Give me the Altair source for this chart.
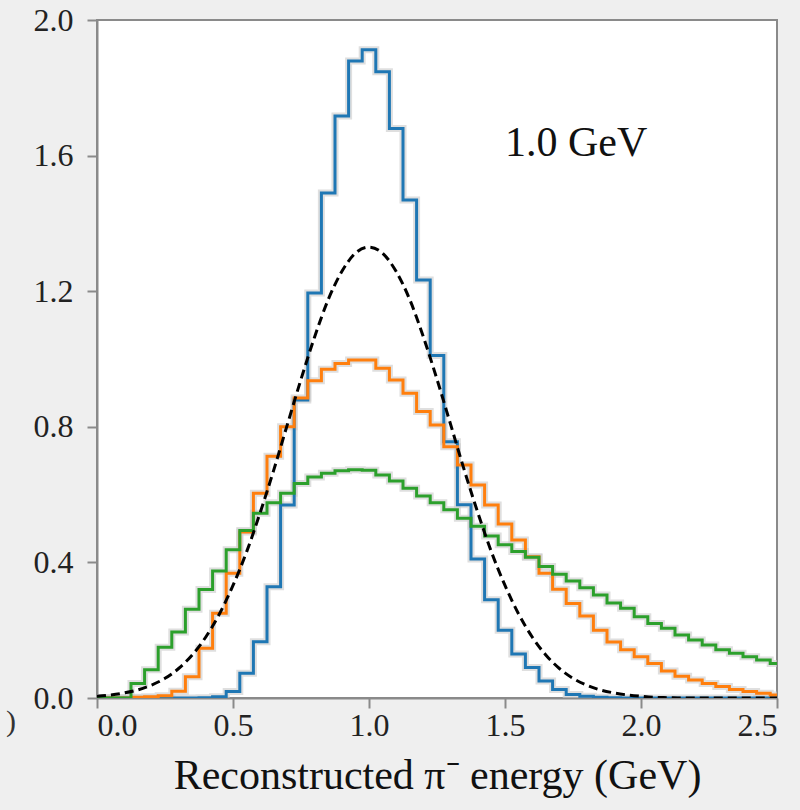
import altair as alt
import pandas as pd

# ---- data -------------------------------------------------------------------
bin_centers = [0.00, 0.05, 0.10, 0.15, 0.20, 0.25, 0.30, 0.35, 0.40, 0.45,
               0.50, 0.55, 0.60, 0.65, 0.70, 0.75, 0.80, 0.85, 0.90, 0.95,
               1.00, 1.05, 1.10, 1.15, 1.20, 1.25, 1.30, 1.35, 1.40, 1.45,
               1.50, 1.55, 1.60, 1.65, 1.70, 1.75, 1.80, 1.85, 1.90, 1.95,
               2.00, 2.05, 2.10, 2.15, 2.20, 2.25, 2.30, 2.35, 2.40, 2.45,
               2.50]
bin_half_width = 0.025

blue_vals = [0, 0, 0, 0, 0, 0, 0, 0, 0.001, 0.004,
             0.019, 0.073, 0.166, 0.328, 0.569, 0.879, 1.195, 1.49, 1.717, 1.879,
             1.912, 1.847, 1.68, 1.469, 1.233, 1.01, 0.756, 0.57, 0.41, 0.29,
             0.20, 0.13, 0.09, 0.05, 0.025, 0.01, 0.005, 0.002, 0.001, 0,
             0, 0, 0, 0, 0, 0, 0, 0, 0, 0,
             0]
orange_vals = [0, 0, 0, 0.002, 0.004, 0.007, 0.02, 0.063, 0.147, 0.25,
               0.368, 0.49, 0.604, 0.713, 0.80, 0.885, 0.936, 0.97, 0.987, 0.997,
               0.997, 0.973, 0.938, 0.899, 0.845, 0.805, 0.741, 0.687, 0.628, 0.569,
               0.513, 0.466, 0.417, 0.368, 0.321, 0.279, 0.242, 0.20, 0.165, 0.142,
               0.122, 0.102, 0.08, 0.064, 0.053, 0.043, 0.034, 0.025, 0.019, 0.014,
               0.009]
green_vals = [0, 0, 0, 0.043, 0.083, 0.15, 0.195, 0.262, 0.32, 0.375,
              0.437, 0.494, 0.545, 0.576, 0.604, 0.633, 0.652, 0.663, 0.67, 0.673,
              0.672, 0.658, 0.64, 0.619, 0.596, 0.576, 0.555, 0.53, 0.507, 0.478,
              0.452, 0.432, 0.415, 0.388, 0.365, 0.345, 0.325, 0.304, 0.28, 0.265,
              0.24, 0.22, 0.206, 0.186, 0.171, 0.156, 0.142, 0.132, 0.122, 0.112,
              0.102]

curve_x = bin_centers
curve_y = [0.005, 0.009, 0.015, 0.024, 0.038, 0.058, 0.087, 0.127, 0.180, 0.248,
           0.332, 0.431, 0.547, 0.673, 0.807, 0.940, 1.065, 1.175, 1.258, 1.312,
           1.330, 1.312, 1.258, 1.175, 1.065, 0.940, 0.807, 0.673, 0.547, 0.431,
           0.332, 0.248, 0.180, 0.127, 0.087, 0.058, 0.038, 0.024, 0.015, 0.009,
           0.005, 0.002, 0.001, 0.0, 0.0, 0.0, 0.0, 0.0, 0.0, 0.0,
           0.0]

series_names = ["a", "b", "c"]
series_colors = ["#1f77b4", "#ff7f0e", "#2ca02c"]
x_ticks = [0.0, 0.5, 1.0, 1.5, 2.0, 2.5]
y_ticks = [0.0, 0.4, 0.8, 1.2, 1.6, 2.0]
annotation = "1.0 GeV"
x_title = "Reconstructed π⁻ energy (GeV)"
edge_fragment = ")"


def step_frame(name, vals):
    xs = [c - bin_half_width for c in bin_centers] + [bin_centers[-1] + bin_half_width]
    ys = list(vals) + [0.0]
    return pd.DataFrame({"x": xs, "y": ys, "series": name})


hist_df = pd.concat([step_frame(n, v) for n, v in
                     zip(series_names, [blue_vals, orange_vals, green_vals])],
                    ignore_index=True)
curve_df = pd.DataFrame({"x": curve_x, "y": curve_y})

FONT = "Liberation Serif"

xscale = alt.Scale(domain=[0, 2.5], nice=False, zero=False)
yscale = alt.Scale(domain=[0, 2.0], nice=False)

x_enc = alt.X("x:Q", scale=xscale,
              axis=alt.Axis(values=x_ticks, format=".1f", title=x_title))
y_enc = alt.Y("y:Q", scale=yscale,
              axis=alt.Axis(values=y_ticks, format=".1f", title=None, labelPadding=14))

hist_base = alt.Chart(hist_df)

halo = hist_base.mark_line(interpolate="step-after", clip=True, strokeWidth=7,
                           color="#c9c9c9", opacity=0.6).encode(
    x=x_enc, y=y_enc, detail="series:N")

lines = hist_base.mark_line(interpolate="step-after", clip=True, strokeWidth=3).encode(
    x=x_enc, y=y_enc,
    color=alt.Color("series:N", scale=alt.Scale(domain=series_names, range=series_colors),
                    legend=None))

curve = alt.Chart(curve_df).mark_line(interpolate="monotone", clip=True, color="black",
                                      strokeWidth=3, strokeDash=[9, 5]).encode(
    x=x_enc, y=y_enc)

label = alt.Chart(pd.DataFrame({"t": [annotation]})).mark_text(
    font=FONT, fontSize=42, align="left", baseline="alphabetic", color="#111"
).encode(x=alt.datum(1.5), y=alt.datum(1.6), text="t:N")

stray = alt.Chart(pd.DataFrame({"t": [edge_fragment]})).mark_text(
    font=FONT, fontSize=30, align="center", baseline="middle", color="#333"
).encode(x=alt.value(-86), y=alt.value(702), text="t:N")

chart = alt.layer(halo, lines, curve, label, stray).properties(
    width=680, height=678,
    autosize=alt.AutoSizeParams(type="none"),
    padding={"left": 97, "top": 20, "right": 23, "bottom": 112},
    background="#efefef",
).configure_view(
    stroke="#8a8a8a", strokeWidth=2, fill="#ffffff"
).configure_axis(
    grid=False,
    domainColor="#8a8a8a", domainWidth=2,
    tickColor="#8a8a8a", tickWidth=2, tickSize=10,
    labelFont=FONT, labelFontSize=32, labelColor="#222",
    titleFont=FONT, titleFontSize=42, titleFontWeight="normal", titleColor="#111",
    titlePadding=14, labelPadding=2,
)

chart.save("out.html", embed_options={"renderer": "svg", "actions": False})
